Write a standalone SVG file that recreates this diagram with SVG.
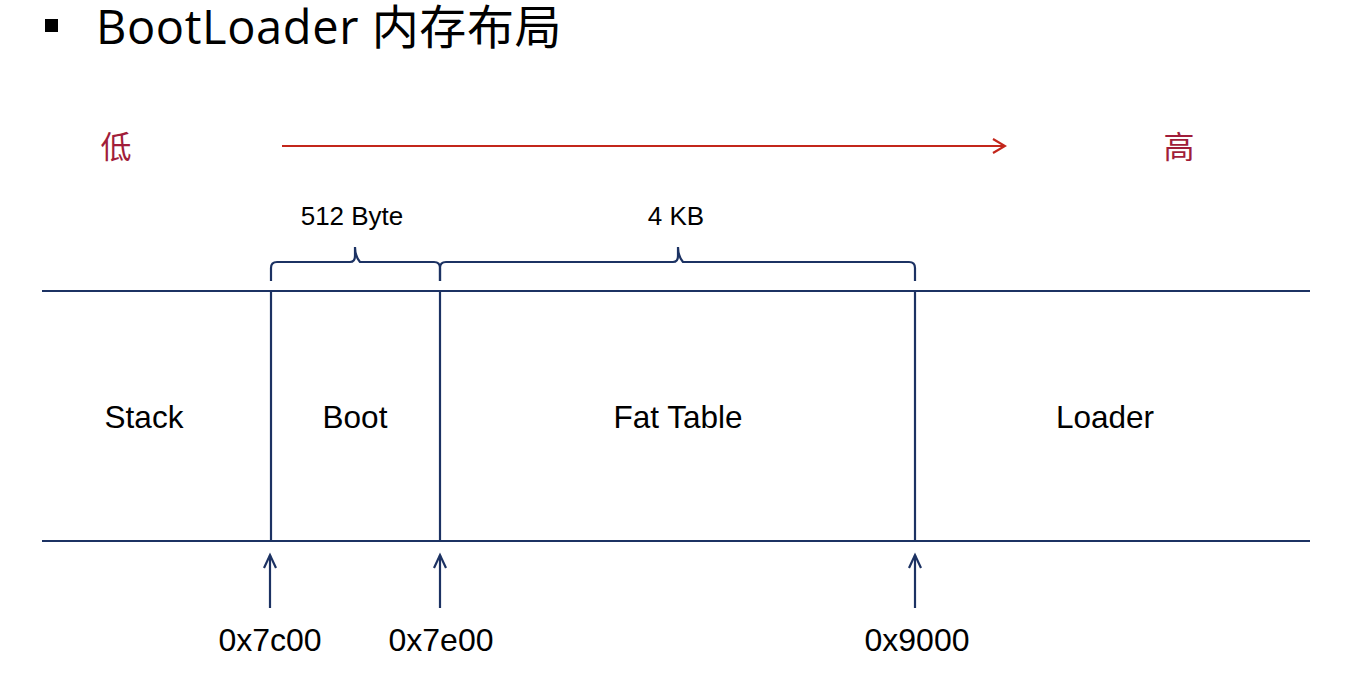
<svg xmlns="http://www.w3.org/2000/svg" width="1354" height="693" viewBox="0 0 1354 693">
<defs>
<style>
.t{font-family:"Liberation Sans","Noto Sans CJK SC",sans-serif;fill:#000;text-anchor:middle}
.cjk{font-family:"Noto Sans CJK SC",sans-serif;fill:#a11d3a;font-size:31px;text-anchor:middle}
.nv{stroke:#1c3263;stroke-width:2.2;fill:none}
</style>
<marker id="ra" markerWidth="16" markerHeight="16" refX="14" refY="8" orient="auto" markerUnits="userSpaceOnUse">
<path d="M2,1 L14,8 L2,15" fill="none" stroke="#c3261b" stroke-width="2.2"/>
</marker>
<marker id="ba" markerWidth="18" markerHeight="16" refX="14" refY="8" orient="auto" markerUnits="userSpaceOnUse">
<path d="M1,2 L14,8 L1,14" fill="none" stroke="#1c3263" stroke-width="2.2"/>
</marker>
</defs>
<rect width="1354" height="693" fill="#fff"/>
<g id="title">
<rect x="45" y="19" width="13" height="13" fill="#000"/>
<text x="96" y="44" font-family="Open Sans,Noto Sans CJK SC,sans-serif" font-size="47" letter-spacing="0.6" fill="#000">BootLoader 内存布局</text>
</g>
<g id="direction">
<text class="cjk" x="116" y="158">低</text>
<text class="cjk" x="1179" y="158">高</text>
</g>
<g id="connectors">
<line x1="282" y1="146" x2="1005" y2="146" stroke="#c3261b" stroke-width="2.2" marker-end="url(#ra)"/>
<line class="nv" x1="42" y1="291" x2="1310" y2="291"/>
<line class="nv" x1="42" y1="541" x2="1310" y2="541"/>
<line class="nv" x1="271" y1="291" x2="271" y2="541"/>
<line class="nv" x1="440" y1="291" x2="440" y2="541"/>
<line class="nv" x1="915" y1="291" x2="915" y2="541"/>
<path class="nv" d="M271,281 L271,268 Q271,262 277,262 L350,262 Q355,262 355,256 L355,247 Q355,256 360,262 L434,262 Q440,262 440,268 L440,281"/>
<path class="nv" d="M440,281 L440,268 Q440,262 446,262 L673,262 Q678,262 678,256 L678,247 Q678,256 683,262 L909,262 Q915,262 915,268 L915,281"/>
<line class="nv" x1="270" y1="608" x2="270" y2="555" marker-end="url(#ba)"/>
<line class="nv" x1="440" y1="608" x2="440" y2="555" marker-end="url(#ba)"/>
<line class="nv" x1="915" y1="608" x2="915" y2="555" marker-end="url(#ba)"/>
</g>
<g id="sizes">
<text class="t" x="352" y="225" font-size="26">512 Byte</text>
<text class="t" x="676" y="225" font-size="26">4 KB</text>
</g>
<g id="node-stack"><text class="t" x="144" y="428" font-size="31.5">Stack</text></g>
<g id="node-boot"><text class="t" x="355" y="428" font-size="31.5">Boot</text></g>
<g id="node-fat"><text class="t" x="678" y="428" font-size="31.5">Fat Table</text></g>
<g id="node-loader"><text class="t" x="1105" y="428" font-size="31.5">Loader</text></g>
<g id="addresses">
<text class="t" x="270" y="651" font-size="32">0x7c00</text>
<text class="t" x="441" y="651" font-size="32">0x7e00</text>
<text class="t" x="917" y="651" font-size="32">0x9000</text>
</g>
</svg>
